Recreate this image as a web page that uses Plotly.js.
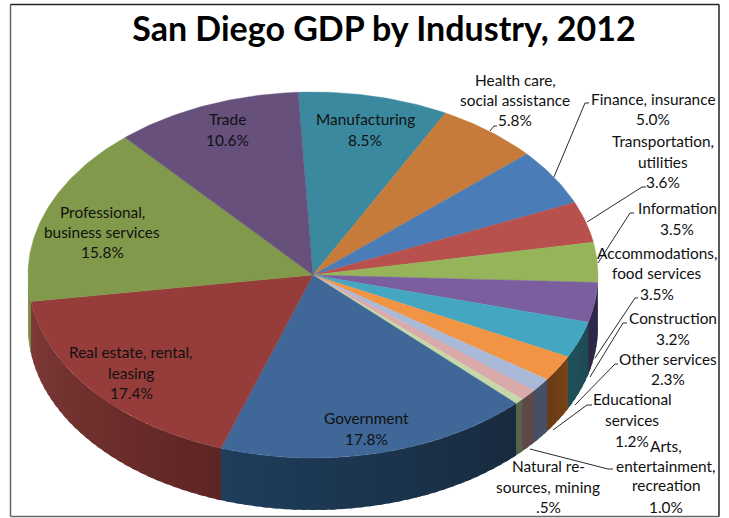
<!DOCTYPE html>
<html>
<head>
<meta charset="utf-8">
<script src="https://cdn.plot.ly/plotly-3.0.1.min.js"></script>
<style>html,body{margin:0;padding:0;background:#fff}</style>
</head>
<body>
<div id="chart" style="width:729px;height:518px"></div>
<script>
// San Diego GDP by industry, clockwise from the top of the pie
const categories = [
  'Manufacturing', 'Health care, social assistance', 'Finance, insurance',
  'Transportation, utilities', 'Information', 'Accommodations, food services',
  'Construction', 'Other services', 'Educational services',
  'Arts, entertainment, recreation', 'Natural resources, mining',
  'Government', 'Real estate, rental, leasing',
  'Professional, business services', 'Trade'
];
const shares = [8.5, 5.8, 5.0, 3.6, 3.5, 3.5, 3.2, 2.3, 1.2, 1.0, 0.5, 17.8, 17.4, 15.8, 10.6];

// Line breaks used when each category name is printed
const nameLines = [
  ['Manufacturing'], ['Health care,', 'social assistance'], ['Finance, insurance'],
  ['Transportation,', 'utilities'], ['Information'], ['Accommodations,', 'food services'],
  ['Construction'], ['Other services'], ['Educational', 'services'],
  ['Arts,', 'entertainment,', 'recreation'], ['Natural re-', 'sources, mining'],
  ['Government'], ['Real estate, rental,', 'leasing'],
  ['Professional,', 'business services'], ['Trade']
];

const topColors = [
  '#3B899F', '#C67B3A', '#4A7DB7', '#B8504E', '#96B55A', '#7A5E9E', '#45A6C1', '#F19544',
  '#AAB9D8', '#D9AAA9', '#C6D8A8', '#3F6798', '#963D3B', '#80994A', '#67507C'
];
// Side wall colours at the clockwise start and end of each slice
const wallStart = [
  '#2A6070', '#8A5528', '#34577F', '#803836', '#3C4B23', '#30264A', '#1E4B55', '#78441A',
  '#464F68', '#5F4848', '#55644A', '#182A3E', '#5F2523', '#768C44', '#4A3A58'
];
const wallEnd = [
  '#2A6070', '#8A5528', '#34577F', '#803836', '#3C4B23', '#30264A', '#1F505A', '#693A14',
  '#464F68', '#5F4848', '#55644A', '#1E3E5C', '#7D3A37', '#768C44', '#4A3A58'
];

// Label block centres and the baseline rows of each block
const labelX = [365, 515, 653, 663, 677, 657, 673, 668, 632, 666, 548, 366, 131, 102, 227];
const labelRows = [
  [119, 140], [80, 100, 120], [99, 119], [141, 162, 182], [208, 229], [253, 273, 294],
  [318, 339], [359, 379], [399, 420, 441], [446, 466, 485, 507], [466, 487, 507],
  [418, 439], [352, 373, 393], [212, 232, 252], [119, 140]
];

// Leader lines from the rim out to the labels
const leaders = [
  [[490, 131], [494, 126], [497, 126]],
  [[554, 177], [585, 103], [589, 103]],
  [[587, 222], [642, 187], [646, 187]],
  [[598, 263], [630, 213], [634, 213]],
  [[595, 358], [635, 298], [638, 298]],
  [[590, 377], [623, 323], [627, 323]],
  [[575, 405], [615, 364], [618, 364]],
  [[553, 430], [587, 405], [592, 405]],
  [[530, 449], [608, 469], [613, 469]]
];

// Pie geometry in plot units
const cx = 313, cy = 275, rx = 285, ry = 183, depth = 52, startDeg = -3;

const total = shares.reduce((a, b) => a + b, 0);
const rimX = t => cx + rx * Math.sin(t * Math.PI / 180);
const rimY = t => cy - ry * Math.cos(t * Math.PI / 180);

function hex(c) { return [1, 3, 5].map(i => parseInt(c.substr(i, 2), 16)); }
function mix(a, b, f) {
  const p = hex(a), q = hex(b);
  return 'rgb(' + p.map((v, i) => Math.round(v + (q[i] - v) * f)).join(',') + ')';
}

const edges = [startDeg];
shares.forEach(s => edges.push(edges[edges.length - 1] + s / total * 360));

const walls = [], tops = [];
categories.forEach((name, i) => {
  const a = edges[i], b = edges[i + 1];
  // Only the front half of the rim shows a side wall
  const from = Math.max(a, 90), to = Math.min(b, 270);
  if (to > from) {
    const strips = Math.max(1, Math.ceil((to - from) / 2));
    for (let k = 0; k < strips; k++) {
      const t0 = from + (to - from) * k / strips;
      // Each strip runs slightly under the next so no seam shows between them
      const t1 = Math.min(from + (to - from) * (k + 1) / strips + 1, 270);
      const color = mix(wallStart[i], wallEnd[i], (k + 0.5) / strips);
      const xs = [], ys = [];
      for (let j = 0; j <= 3; j++) { const t = t0 + (t1 - t0) * j / 3; xs.push(rimX(t)); ys.push(rimY(t)); }
      for (let j = 3; j >= 0; j--) { const t = t0 + (t1 - t0) * j / 3; xs.push(rimX(t)); ys.push(rimY(t) + depth); }
      walls.push({
        x: xs, y: ys, mode: 'lines', fill: 'toself', fillcolor: color,
        line: { width: 0 }, name: name, hoverinfo: 'name', showlegend: false
      });
    }
  }
  const xs = [cx], ys = [cy];
  const n = Math.max(2, Math.ceil(b - a));
  for (let j = 0; j <= n; j++) { const t = a + (b - a) * j / n; xs.push(rimX(t)); ys.push(rimY(t)); }
  xs.push(cx); ys.push(cy);
  tops.push({
    x: xs, y: ys, mode: 'lines', fill: 'toself', fillcolor: topColors[i],
    line: { color: topColors[i], width: 0.4 }, name: name,
    text: shares[i] + '%', hoverinfo: 'name+text', showlegend: false
  });
});

const labelFont = { family: 'Lato, sans-serif', size: 15.4, color: '#111' };
const annotations = [];
categories.forEach((name, i) => {
  const pct = shares[i] < 1 ? '.' + Math.round(shares[i] * 10) + '%' : shares[i].toFixed(1) + '%';
  nameLines[i].concat([pct]).forEach((line, r) => {
    annotations.push({
      x: labelX[i], y: labelRows[i][r], xref: 'x', yref: 'y', text: line,
      showarrow: false, xanchor: 'center', yanchor: 'middle', font: labelFont
    });
  });
});

const shapes = leaders.map(pts => ({
  type: 'path', xref: 'x', yref: 'y', layer: 'above',
  path: pts.map((p, i) => (i ? 'L' : 'M') + p[0] + ',' + p[1]).join(' '),
  line: { color: '#2a2a2a', width: 1 }
}));
// Chart frame
[[10.5, 4.5, 10.5, 516.5, '#666'], [10.5, 516.5, 719, 516.5, '#666'],
 [10.5, 4.5, 719, 4.5, '#222'], [719, 4.5, 719, 516.5, '#222']].forEach(s => {
  shapes.push({ type: 'line', xref: 'x', yref: 'y', layer: 'above',
    x0: s[0], y0: s[1], x1: s[2], y1: s[3], line: { color: s[4], width: 1.5 } });
});

const layout = {
  width: 729, height: 518, autosize: false,
  margin: { l: 0, r: 0, t: 0, b: 0 },
  paper_bgcolor: '#fff', plot_bgcolor: '#fff', showlegend: false,
  title: {
    text: '<b>San Diego GDP by Industry, 2012</b>',
    font: { family: 'Lato, sans-serif', size: 34, color: '#000' },
    x: 384 / 729, xanchor: 'center', y: 1 - 29 / 518, yanchor: 'middle'
  },
  xaxis: { range: [0, 729], visible: false, fixedrange: true },
  yaxis: { range: [518, 0], visible: false, fixedrange: true },
  annotations: annotations,
  shapes: shapes
};

Plotly.newPlot('chart', walls.concat(tops), layout, { displayModeBar: false, staticPlot: true });
</script>
</body>
</html>
